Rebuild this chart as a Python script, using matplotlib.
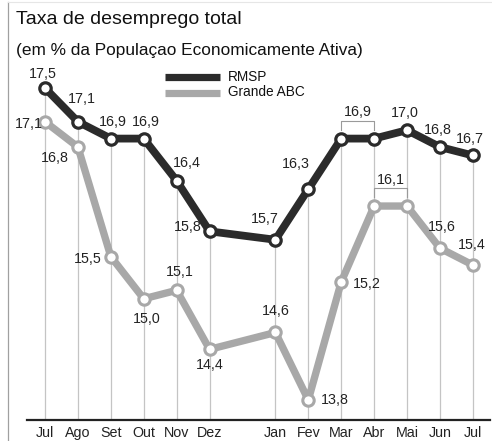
import matplotlib
matplotlib.use("Agg")
import matplotlib.pyplot as plt
from matplotlib.lines import Line2D

plt.rcParams['font.family'] = ['Liberation Sans', 'DejaVu Sans']

# ---- data ----
months = ["Jul", "Ago", "Set", "Out", "Nov", "Dez", "Jan", "Fev", "Mar", "Abr", "Mai", "Jun", "Jul"]
rmsp = [17.5, 17.1, 16.9, 16.9, 16.4, 15.8, 15.7, 16.3, 16.9, 16.9, 17.0, 16.8, 16.7]
abc = [17.1, 16.8, 15.5, 15.0, 15.1, 14.4, 14.6, 13.8, 15.2, 16.1, 16.1, 15.6, 15.4]
title = "Taxa de desemprego total"
subtitle = "(em % da Populaçao Economicamente Ativa)"
series_names = ["RMSP", "Grande ABC"]

# x positions: a gap between Dez and Jan
xpos = [i if i < 6 else i + 1 for i in range(len(months))]

W, H = 492, 441
fig = plt.figure(figsize=(W / 100, H / 100), dpi=100)
fig.patch.set_facecolor("white")

def fx(px):
    return px / W

def fy(py):
    return 1 - py / H

ax = fig.add_axes([fx(27), fy(420), fx(490) - fx(27), fy(0) - fy(420)])
ax.set_xlim(-0.547, 13.52)
ax.set_ylim(13.562, 18.544)
ax.patch.set_alpha(0)
for s in ["top", "right", "left"]:
    ax.spines[s].set_visible(False)
ax.spines["bottom"].set_linewidth(1.6)
ax.spines["bottom"].set_color("#222222")
ax.set_yticks([])
ax.set_xticks(xpos)
ax.set_xticklabels(months, fontsize=10.3, color="#222222")
ax.tick_params(axis="x", length=0, pad=4)

dark = "#2b2b2b"
gray = "#a8a8a8"

# vertical guide lines
tops = [max(a, b) for a, b in zip(rmsp, abc)]
ax.vlines(xpos, 13.562, tops, color="#c4c4c4", lw=0.9, zorder=1)

ax.plot(xpos, abc, color=gray, lw=5.3, marker="o", ms=8.2, mfc="white",
        mec=gray, mew=2.2, zorder=3, solid_joinstyle="round")
ax.plot(xpos, rmsp, color=dark, lw=5.6, marker="o", ms=8.2, mfc="white",
        mec=dark, mew=2.3, zorder=4, solid_joinstyle="round")

def fmt(v):
    return f"{v:.1f}".replace(".", ",")

px2pt = 0.72
LAB = 10.3
# label offsets (px, screen coordinates) and alignment; None = shared bracket label
rmsp_off = [(-2, -14, "center"), (4, -23, "center"), (2, -17, "center"), (2, -17, "center"),
            (10, -18, "center"), (-22, -4, "center"), (-11, -21, "center"), (-12, -25, "center"),
            None, None, (-2, -17, "center"), (-2, -17, "center"), (-3, -16, "center")]
abc_off = [(-16, 2, "center"), (-23, 11, "center"), (-23, 2, "center"), (3, 20, "center"),
           (3, -18, "center"), (0, 16, "center"), (0, -21, "center"), (13, 0, "left"),
           (12, 2, "left"), None, None, (2, -21, "center"), (-1, -20, "center")]

for vals, offs in ((rmsp, rmsp_off), (abc, abc_off)):
    for x, v, o in zip(xpos, vals, offs):
        if o is None:
            continue
        dx, dy, ha = o
        ax.annotate(fmt(v), (x, v), xytext=(dx * px2pt, -dy * px2pt),
                    textcoords="offset points", ha=ha, va="center",
                    fontsize=LAB, color="#222222", zorder=6)

# brackets for equal consecutive values
def bracket(i, vals, top_off, side_off, lab_px):
    x0, x1 = xpos[i], xpos[i + 1]
    v = vals[i]
    ax.plot([x0, x0, x1, x1], [v + side_off, v + top_off, v + top_off, v + side_off],
            color="#9a9a9a", lw=0.8, zorder=2)
    ax.annotate(fmt(v), ((x0 + x1) / 2, v + top_off), xytext=(0, lab_px * px2pt),
                textcoords="offset points", ha="center", va="center",
                fontsize=LAB, color="#222222", zorder=6)

bracket(8, rmsp, 0.21, 0.10, 9)
bracket(9, abc, 0.21, 0.11, 8)

# title / subtitle
fig.text(fx(16), fy(19), title, fontsize=14, ha="left", va="center", color="#111111")
fig.text(fx(16), fy(51), subtitle, fontsize=12.4, ha="left", va="center", color="#111111")

# legend
fig.add_artist(Line2D([fx(165), fx(220)], [fy(77), fy(77)], color=dark, lw=5.2,
                      solid_capstyle="butt"))
fig.add_artist(Line2D([fx(165), fx(220)], [fy(92.5), fy(92.5)], color=gray, lw=5.2,
                      solid_capstyle="butt"))
fig.text(fx(228), fy(77), series_names[0], fontsize=9.8, ha="left", va="center", color="#111111")
fig.text(fx(228), fy(92.5), series_names[1], fontsize=9.8, ha="left", va="center", color="#111111")

# frame lines
fig.add_artist(Line2D([fx(8), fx(8)], [0, fy(2)], color="#a0a0a0", lw=0.9))
fig.add_artist(Line2D([fx(8), 1], [fy(2), fy(2)], color="#e6e6e6", lw=0.8))

fig.savefig("out.png", dpi=100)
